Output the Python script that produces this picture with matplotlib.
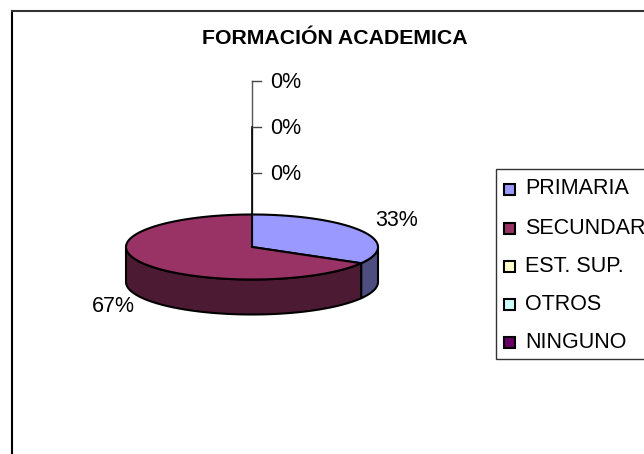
import numpy as np
import matplotlib.pyplot as plt
from matplotlib.patches import Rectangle

categorias = ["PRIMARIA", "SECUNDARIA", "EST. SUP.", "OTROS", "NINGUNO"]
valores = [1, 2, 0, 0, 0]
colores = ["#9999FF", "#993366", "#FFFFCC", "#CCFFFF", "#660066"]
colores_lado = ["#4D4D80", "#4D1A33", "#80805F", "#608080", "#330033"]
etiquetas_cero = ["0%", "0%", "0%"]

plt.rcParams['font.family'] = ['Liberation Sans', 'DejaVu Sans']

# centro y radios de la elipse, en pixeles
cx, cy = 252, 247
rx, ry = 126, 32.5
alto = 35

fig = plt.figure(figsize=(6.44, 4.54), dpi=100)
ax = fig.add_axes([0, 0, 1, 1])
ax.set_xlim(0, 644)
ax.set_ylim(454, 0)
ax.axis('off')

# marco exterior, se sale de la imagen por la derecha y por abajo
ax.plot([12, 12], [460, 11], color='black', lw=1.5, clip_on=False)
ax.plot([12, 650], [11, 11], color='#333333', lw=1.5, clip_on=False)

ax.text(335, 38.5, "FORMACIÓN ACADEMICA", fontsize=15.3, fontweight='bold',
        ha='center', va='center')


def punto(t):
    return cx + rx * np.sin(t), cy - ry * np.cos(t)


fracciones = np.array(valores) / sum(valores)
fin = np.cumsum(fracciones) * 2 * np.pi
inicio = fin - fracciones * 2 * np.pi

# lados del pastel (solo la parte de delante)
for a, b, lado in zip(inicio, fin, colores_lado):
    a2, b2 = max(a, np.pi / 2), min(b, 3 * np.pi / 2)
    if b2 <= a2:
        continue
    t = np.linspace(a2, b2, 100)
    x, y = punto(t)
    ax.fill(np.r_[x, x[::-1]], np.r_[y, y[::-1] + alto], facecolor=lado,
            edgecolor='black', lw=1.5, joinstyle='round')

# tapa del pastel
for a, b, color in zip(inicio, fin, colores):
    if b <= a:
        continue
    t = np.linspace(a, b, 150)
    x, y = punto(t)
    ax.fill(np.r_[cx, x], np.r_[cy, y], facecolor=color, edgecolor='black',
            lw=1.5, joinstyle='round')

# eje vertical con las etiquetas en cero
ax.plot([252, 252], [81, 216], color='#555555', lw=1.0)
ax.plot([252, 252], [127, 247], color='black', lw=1.2)
for yy, txt in zip([81, 127, 173], etiquetas_cero):
    ax.plot([252, 261], [yy, yy], color='#444444', lw=1.0)
    ax.text(270, yy + 1.5, txt, fontsize=15.5, va='center', ha='left')

ax.text(397, 220.5, f"{fracciones[0]:.0%}", fontsize=15.5, ha='center', va='center')
ax.text(113, 307, f"{fracciones[1]:.0%}", fontsize=15.5, ha='center', va='center')

# leyenda
ax.add_patch(Rectangle((496, 169), 160, 190, facecolor='white', edgecolor='#333333',
                       lw=1.0, clip_on=False))
for yy, cat, color in zip([189, 228, 266, 304, 342], categorias, colores):
    ax.add_patch(Rectangle((504.5, yy - 5.5), 11, 11, facecolor=color, edgecolor='black', lw=1.5))
    ax.text(525, yy, cat, fontsize=15.5, va='center', ha='left')

fig.savefig("out.png", dpi=100)
